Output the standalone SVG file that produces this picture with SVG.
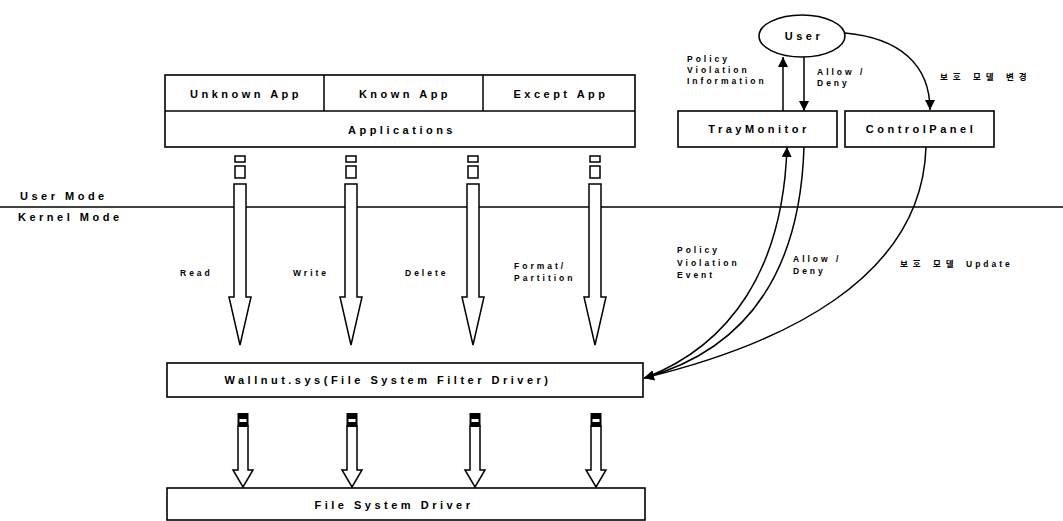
<svg xmlns="http://www.w3.org/2000/svg" width="1063" height="521" viewBox="0 0 1063 521">
<style>
.bx{fill:#fff;stroke:#000;stroke-width:1.6}
.ln{fill:none;stroke:#000;stroke-width:1.5}
.ar{fill:#fff;stroke:#000;stroke-width:1.5;stroke-linejoin:miter}
.blk{fill:#000}
.t{font-family:"Liberation Sans",Arial,"Noto Sans CJK KR",sans-serif;font-weight:bold;fill:#000}
.tb{font-size:11px;letter-spacing:3.5px}
.ts{font-size:8.5px;letter-spacing:3px}
.tk{font-size:8.5px;letter-spacing:5px}
.tm{text-anchor:middle}
</style>
<defs>
<marker id="ah" markerUnits="userSpaceOnUse" markerWidth="12" markerHeight="12" refX="10" refY="5" orient="auto">
<path d="M0,0 L10,5 L0,10 Z" fill="#000"/>
</marker>
</defs>
<rect width="1063" height="521" fill="#fff"/>

<g id="mode-line">
<line x1="0" y1="207" x2="1063" y2="207" class="ln"/>
<text class="t tb" x="20" y="200">User Mode</text>
<text class="t tb" x="18" y="221">Kernel Mode</text>
</g>

<g id="applications">
<rect class="bx" x="165" y="75" width="470" height="72"/>
<line class="ln" x1="165" y1="111" x2="635" y2="111"/>
<line class="ln" x1="324" y1="75" x2="324" y2="111"/>
<line class="ln" x1="483" y1="75" x2="483" y2="111"/>
<text class="t tb tm" x="246" y="98">Unknown App</text>
<text class="t tb tm" x="405" y="98">Known App</text>
<text class="t tb tm" x="561" y="98">Except App</text>
<text class="t tb tm" x="402" y="134">Applications</text>
</g>

<g id="user">
<ellipse class="bx" cx="802" cy="36" rx="43" ry="21"/>
<text class="t tb tm" x="804" y="40">User</text>
</g>

<g id="traymonitor">
<rect class="bx" x="678" y="111" width="159" height="36"/>
<text class="t tb tm" x="759" y="133">TrayMonitor</text>
</g>

<g id="controlpanel">
<rect class="bx" x="845" y="111" width="149" height="36"/>
<text class="t tb tm" x="921" y="133">ControlPanel</text>
</g>

<g id="wallnut">
<rect class="bx" x="167" y="363" width="476" height="34"/>
<text class="t tb tm" x="388" y="384">Wallnut.sys(File System Filter Driver)</text>
</g>

<g id="fsdriver">
<rect class="bx" x="167" y="488" width="478" height="32"/>
<text class="t tb tm" x="394" y="509">File System Driver</text>
</g>

<g id="connectors">
<g id="op-arrows">
<rect class="ar" x="235" y="156" width="10" height="6"/><rect class="ar" x="235" y="166" width="10" height="12"/>
<path class="ar" d="M234,184 V297 H229 L240,345 L251,297 H246 V184 Z"/>
<rect class="ar" x="346" y="156" width="10" height="6"/><rect class="ar" x="346" y="166" width="10" height="12"/>
<path class="ar" d="M345,184 V297 H340 L351,345 L362,297 H357 V184 Z"/>
<rect class="ar" x="468" y="156" width="10" height="6"/><rect class="ar" x="468" y="166" width="10" height="12"/>
<path class="ar" d="M467,184 V297 H462 L473,345 L484,297 H479 V184 Z"/>
<rect class="ar" x="590" y="156" width="10" height="6"/><rect class="ar" x="590" y="166" width="10" height="12"/>
<path class="ar" d="M589,184 V297 H584 L595,345 L606,297 H601 V184 Z"/>
</g>
<g id="fs-arrows">
<path class="ar" d="M238,426 V470 H233 L243,487 L253,470 H248 V426 Z"/>
<rect class="blk" x="237.5" y="413" width="11" height="14"/><rect fill="#fff" x="239.5" y="419" width="7" height="3"/>
<path class="ar" d="M347,426 V470 H342 L352,487 L362,470 H357 V426 Z"/>
<rect class="blk" x="346.5" y="413" width="11" height="14"/><rect fill="#fff" x="348.5" y="419" width="7" height="3"/>
<path class="ar" d="M470,426 V470 H465 L475,487 L485,470 H480 V426 Z"/>
<rect class="blk" x="469.5" y="413" width="11" height="14"/><rect fill="#fff" x="471.5" y="419" width="7" height="3"/>
<path class="ar" d="M591,426 V470 H586 L596,487 L606,470 H601 V426 Z"/>
<rect class="blk" x="590.5" y="413" width="11" height="14"/><rect fill="#fff" x="592.5" y="419" width="7" height="3"/>
</g>
<line class="ln" x1="783" y1="111" x2="783" y2="57" marker-end="url(#ah)"/>
<line class="ln" x1="804" y1="57" x2="804" y2="111" marker-end="url(#ah)"/>
<path class="ln" d="M845,33 C900,38 930,65 930,110" marker-end="url(#ah)"/>
<path class="ln" d="M645,378 C730,345 783,270 787,147" marker-end="url(#ah)"/>
<path class="ln" d="M804,147 C800,275 745,350 644,378" marker-end="url(#ah)"/>
<path class="ln" d="M926,147 C922,280 780,345 644,378" marker-end="url(#ah)"/>
</g>

<g id="labels">
<text class="t ts" x="180" y="276">Read</text>
<text class="t ts" x="293" y="276">Write</text>
<text class="t ts" x="405" y="276">Delete</text>
<text class="t ts" x="514" y="269">Format/</text>
<text class="t ts" x="514" y="281">Partition</text>
<text class="t ts" x="687" y="62">Policy</text>
<text class="t ts" x="687" y="73">Violation</text>
<text class="t ts" x="687" y="84">Information</text>
<text class="t ts" x="817" y="75">Allow /</text>
<text class="t ts" x="817" y="86">Deny</text>
<text class="t tk" x="940" y="80">보호 모델 변경</text>
<text class="t ts" x="677" y="253">Policy</text>
<text class="t ts" x="677" y="266">Violation</text>
<text class="t ts" x="677" y="278">Event</text>
<text class="t ts" x="793" y="262">Allow /</text>
<text class="t ts" x="793" y="274">Deny</text>
<text class="t tk" x="900" y="267">보호 모델 <tspan class="ts">Update</tspan></text>
</g>
</svg>
